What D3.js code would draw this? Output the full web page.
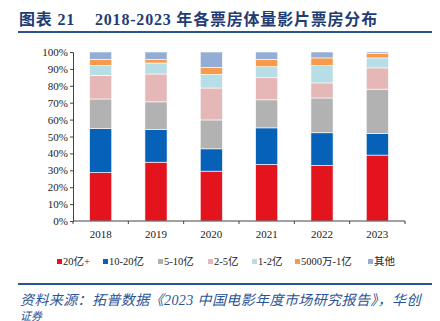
<!DOCTYPE html>
<html><head><meta charset="utf-8">
<script src="https://cdn.jsdelivr.net/npm/d3@7"></script>
<style>body{margin:0;background:#fff}svg{display:block}</style>
</head><body>
<svg id="c" width="440" height="321"></svg>
<script>
const years = ["2018","2019","2020","2021","2022","2023"];
const seriesNames = ["20亿+","10-20亿","5-10亿","2-5亿","1-2亿","5000万-1亿","其他"];
const s20plus   = [28.7,34.8,29.5,33.5,32.9,39.0];
const s10to20   = [26.0,19.3,13.2,21.6,19.3,12.8];
const s5to10    = [17.5,16.4,17.1,16.6,20.6,26.2];
const s2to5     = [14.0,16.5,18.9,13.1,8.9,12.6];
const s1to2     = [5.9,6.5,8.1,6.5,10.2,5.9];
const s5000to1  = [3.6,2.0,4.1,4.4,4.6,2.5];
const sOther    = [4.3,4.5,9.1,4.3,3.5,1.0];
const yTicks = [0,10,20,30,40,50,60,70,80,90,100];
const colors = ["#E3141E","#0661B9","#B2B2B2","#E6B7B7","#B7DDE7","#F79A4C","#94ADD5"];

const allSeries = [s20plus,s10to20,s5to10,s2to5,s1to2,s5000to1,sOther];
const rows = years.map((y,i)=>{const r={year:y}; seriesNames.forEach((n,k)=>r[n]=allSeries[k][i]); return r;});
const stacked = d3.stack().keys(seriesNames)(rows);

const svg = d3.select("#c");
const serif = "'Liberation Serif','Times New Roman',serif";
const cjk = "'Liberation Serif','Noto Sans CJK SC',serif";

// title
const title = svg.append("text").attr("y",25).attr("fill","#1F3C74")
  .attr("font-family",cjk).attr("font-weight","bold").attr("font-size",16)
  .attr("letter-spacing",0.8);
title.append("tspan").attr("x",19).text("图表 21");
title.append("tspan").attr("x",95).text("2018-2023 年各票房体量影片票房分布");
svg.append("line").attr("x1",18).attr("x2",432).attr("y1",32).attr("y2",32)
  .attr("stroke","#2C5394").attr("stroke-width",2);

const x = d3.scaleBand().domain(years).range([73,405]).paddingInner(0.6).paddingOuter(0.3);
const y = d3.scaleLinear().domain([0,100]).range([221,52]);

const g = svg.append("g");
g.selectAll("g.s").data(stacked).join("g").attr("fill",(d,i)=>colors[i])
  .selectAll("rect").data(d=>d).join("rect")
  .attr("x",d=>x(d.data.year)).attr("width",x.bandwidth())
  .attr("y",d=>y(Math.min(100,d[1]))).attr("height",d=>y(d[0])-y(Math.min(100,d[1])))
  .attr("stroke","#fff").attr("stroke-width",0.6);

// y axis
const ya = svg.append("g").attr("transform","translate(73,0)")
  .call(d3.axisLeft(y).tickValues(yTicks).tickFormat(d=>d+"%").tickSize(3).tickPadding(2));
ya.selectAll("text").attr("font-family",serif).attr("font-size",11).attr("fill","#222");
ya.selectAll("line,path").attr("stroke","#444");

// x axis with ticks at band boundaries
const xa = svg.append("g").attr("transform","translate(0,221)");
xa.append("line").attr("x1",73).attr("x2",405).attr("stroke","#444");
const bounds = d3.range(years.length+1).map(i=>73+i*(332/years.length));
xa.selectAll("line.t").data(bounds).join("line").attr("class","t")
  .attr("x1",d=>d).attr("x2",d=>d).attr("y1",0).attr("y2",3).attr("stroke","#444");
xa.selectAll("text").data(years).join("text")
  .attr("x",d=>x(d)+x.bandwidth()/2).attr("y",17).attr("text-anchor","middle")
  .attr("font-family",serif).attr("font-size",11).attr("fill","#222").text(d=>d);

// legend
const legX = [57,103,158,208,252,295,368];
const lg = svg.append("g").selectAll("g").data(seriesNames).join("g")
  .attr("transform",(d,i)=>`translate(${legX[i]},262)`);
lg.append("rect").attr("x",0).attr("y",-3).attr("width",5).attr("height",5).attr("fill",(d,i)=>colors[i]);
lg.append("text").attr("x",6).attr("y",3).attr("font-family",cjk).attr("font-size",10.5)
  .attr("fill","#222").text(d=>d);

// source
svg.append("line").attr("x1",18).attr("x2",432).attr("y1",284).attr("y2",284)
  .attr("stroke","#2C5394").attr("stroke-width",2);
svg.append("text").attr("x",20).attr("y",305).attr("fill","#2C5394")
  .attr("font-family",cjk).attr("font-style","italic").attr("font-size",14)
  .attr("letter-spacing",0.4)
  .text("资料来源：拓普数据《2023 中国电影年度市场研究报告》，华创");
svg.append("text").attr("x",20).attr("y",320).attr("fill","#2C5394")
  .attr("font-family",cjk).attr("font-style","italic").attr("font-size",11)
  .text("证券");
</script>
</body></html>
